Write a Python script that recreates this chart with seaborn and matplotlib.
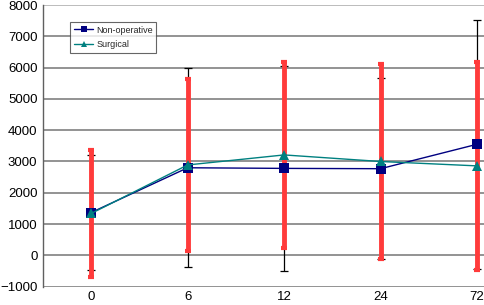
import matplotlib
matplotlib.use("Agg")
import matplotlib.pyplot as plt
import numpy as np
import pandas as pd
import seaborn as sns

# hours after surgery (category axis)
hours = ["0", "6", "12", "24", "72"]

# mean values
nonop_mean = [1370, 2800, 2780, 2770, 3550]
surg_mean = [1340, 2890, 3210, 3000, 2860]

# error bar half-widths (symmetric)
nonop_err = [1830, 3175, 3270, 2890, 3970]
surg_err = [2020, 2740, 2970, 3110, 3330]

df = pd.DataFrame({
    "pos": list(range(len(hours))) * 2,
    "value": nonop_mean + surg_mean,
    "group": ["Non-operative"] * len(hours) + ["Surgical"] * len(hours),
})

sns.set_style("white")
plt.rcParams["font.family"] = ["Liberation Sans", "DejaVu Sans"]

fig = plt.figure(figsize=(4.84, 3.05), dpi=100)
ax = fig.add_axes([43 / 484, 1 - 286.7 / 305, 1 - 43 / 484, (286.7 - 5) / 305])

# gridlines
for yv in range(-1000, 8001, 1000):
    ax.axhline(yv, color="#808080" if yv < 8000 else "#b0b0b0", lw=1.2, zorder=0)

x = np.arange(len(hours))

# non-operative error bars (thin black)
ax.errorbar(x, nonop_mean, yerr=nonop_err, fmt="none", ecolor="black",
            elinewidth=0.9, capsize=3, capthick=0.9, zorder=2)
# surgical error bars (thick red)
ax.errorbar(x, surg_mean, yerr=surg_err, fmt="none", ecolor="#ff3b3b",
            elinewidth=3.5, capsize=2, capthick=3, zorder=3)

sns.lineplot(data=df, x="pos", y="value", hue="group", style="group",
             markers={"Non-operative": "s", "Surgical": "^"}, dashes=False,
             palette={"Non-operative": "#000080", "Surgical": "#008080"},
             linewidth=1, markersize=7, markeredgewidth=0, ax=ax, zorder=4)

ax.set_xlim(-0.5, 4 + 7 / 96.3)
ax.set_ylim(-1000, 8000)
ax.set_yticks(range(-1000, 8001, 1000))
ax.set_xticks(x)
ax.set_xticklabels(hours)
ax.set_xlabel("")
ax.set_ylabel("")
ax.tick_params(axis="both", labelsize=9.5, length=0, pad=4, colors="black")
ax.tick_params(axis="x", labelsize=9.5, pad=3)

for side in ["top", "right", "bottom"]:
    ax.spines[side].set_visible(False)
ax.spines["left"].set_color("#606060")
ax.spines["left"].set_linewidth(1)

leg = ax.legend(loc="upper left", bbox_to_anchor=(27 / 441, 1 - 17 / 281.7),
                fontsize=6.5, frameon=True, fancybox=False, borderpad=0.4,
                handlelength=2.2, handletextpad=0.3, labelspacing=0.6,
                markerscale=0.7, borderaxespad=0)
leg.get_frame().set_edgecolor("#404040")
leg.get_frame().set_linewidth(0.8)

fig.savefig("out.png", dpi=100)
